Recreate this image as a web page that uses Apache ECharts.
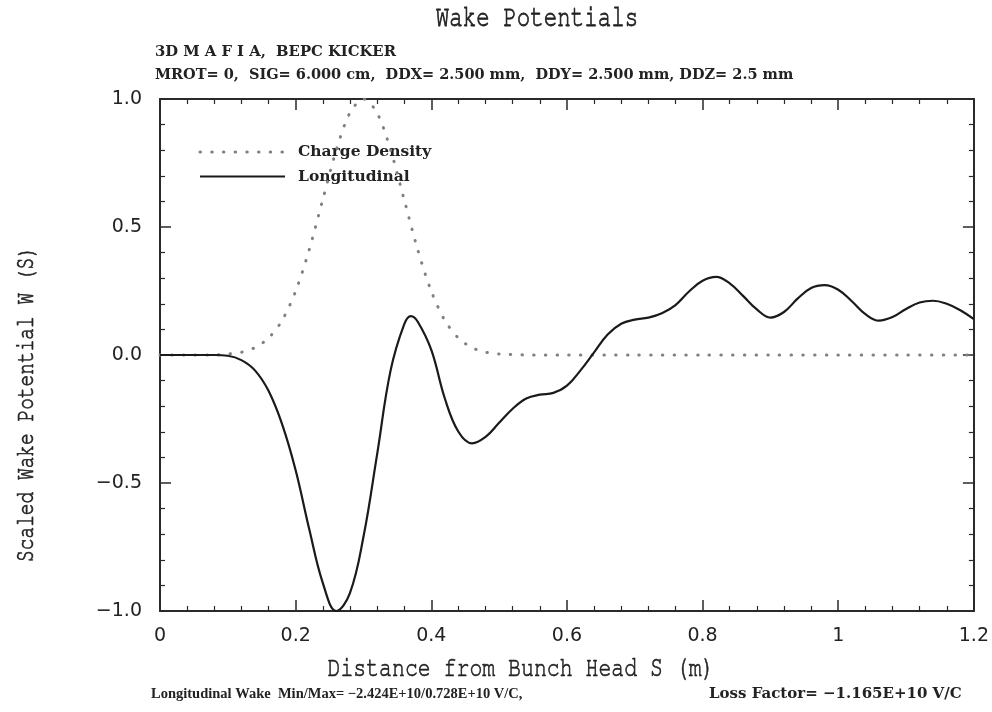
<!DOCTYPE html>
<html>
<head>
<meta charset="utf-8">
<script src="https://cdn.jsdelivr.net/npm/echarts@6/dist/echarts.min.js"></script>
<style>
html,body{margin:0;padding:0;background:#fff;}
#chart{width:992px;height:712px;}
</style>
</head>
<body>
<div id="chart"></div>
<script>
// ---- data ----
const chartTitle = 'Wake Potentials';
const headerLine1 = '3D M A F I A,  BEPC KICKER';
const headerLine2 = 'MROT= 0,  SIG= 6.000 cm,  DDX= 2.500 mm,  DDY= 2.500 mm, DDZ= 2.5 mm';
const footerLeft = 'Longitudinal Wake  Min/Max= \u22122.424E+10/0.728E+10 V/C,';
const footerRight = 'Loss Factor= \u22121.165E+10 V/C';
const xAxisTitle = 'Distance from Bunch Head S (m)';
const yAxisTitle = 'Scaled Wake Potential W (S)';
const seriesNames = ['Charge Density', 'Longitudinal'];

const xTicks = [0, 0.2, 0.4, 0.6, 0.8, 1, 1.2];
const yTicks = [-1.0, -0.5, 0.0, 0.5, 1.0];

// Charge density (scaled), s in m
const chargeS = [0, 0.04, 0.08, 0.10, 0.12, 0.14, 0.16, 0.18, 0.20, 0.22, 0.24, 0.26, 0.28, 0.30,
                 0.32, 0.34, 0.36, 0.38, 0.40, 0.42, 0.44, 0.46, 0.48, 0.50, 0.55, 0.60, 0.70,
                 0.80, 0.90, 1.00, 1.10, 1.20];
const chargeW = [0, 0, 0, 0.004, 0.011, 0.029, 0.066, 0.135, 0.249, 0.411, 0.607, 0.801, 0.946, 1.0,
                 0.946, 0.801, 0.607, 0.411, 0.249, 0.135, 0.066, 0.029, 0.011, 0.004, 0, 0, 0,
                 0, 0, 0, 0, 0];

// Longitudinal wake (scaled)
const wakeS = [0, 0.02, 0.04, 0.06, 0.08, 0.10, 0.12, 0.14, 0.16, 0.18, 0.20, 0.22, 0.24, 0.26, 0.28,
               0.30, 0.32, 0.34, 0.36, 0.37, 0.38, 0.40, 0.42, 0.44, 0.46, 0.48, 0.50, 0.52, 0.54,
               0.56, 0.58, 0.60, 0.62, 0.64, 0.66, 0.68, 0.70, 0.72, 0.74, 0.76, 0.78, 0.80, 0.82,
               0.84, 0.86, 0.88, 0.90, 0.92, 0.94, 0.96, 0.98, 1.00, 1.02, 1.04, 1.06, 1.08, 1.10,
               1.12, 1.14, 1.16, 1.18, 1.20];
const wakeW = [0, 0, 0, 0, 0, -0.003, -0.02, -0.06, -0.14, -0.27, -0.45, -0.68, -0.89, -1.0, -0.93,
               -0.71, -0.39, -0.06, 0.12, 0.152, 0.13, 0.02, -0.17, -0.30, -0.345, -0.32, -0.265, -0.21, -0.17,
               -0.155, -0.148, -0.12, -0.06, 0.01, 0.08, 0.122, 0.138, 0.146, 0.163, 0.195, 0.248, 0.29, 0.305,
               0.28, 0.23, 0.178, 0.146, 0.168, 0.22, 0.262, 0.273, 0.255, 0.21, 0.16, 0.134, 0.148, 0.18,
               0.205, 0.212, 0.2, 0.175, 0.14];

// ---- chart ----
const GRID = {left: 160, right: 14, top: 99, bottom: 101};
const AX = '#2a2a2a';
const MONO = 'FreeMono';
const SERIF = 'DejaVu Serif';

function pairs(xs, ys) { return xs.map((x, i) => [x, ys[i]]); }

const xBase = {
  type: 'value', min: xTicks[0], max: xTicks[xTicks.length - 1], interval: 0.2,
  axisLine: {show: true, onZero: false, lineStyle: {color: AX, width: 2}},
  axisTick: {show: true, inside: true, length: 11, lineStyle: {color: AX, width: 1.5}},
  minorTick: {show: true, splitNumber: 5, length: 5, lineStyle: {color: AX, width: 1.2}},
  splitLine: {show: false}
};
const yBase = {
  type: 'value', min: yTicks[0], max: yTicks[yTicks.length - 1], interval: 0.5,
  axisLine: {show: true, onZero: false, lineStyle: {color: AX, width: 2}},
  axisTick: {show: true, inside: true, length: 11, lineStyle: {color: AX, width: 1.5}},
  minorTick: {show: true, splitNumber: 5, length: 5, lineStyle: {color: AX, width: 1.2}},
  splitLine: {show: false}
};

const DOT_COLOR = '#808080';
const LINE_COLOR = '#1a1a1a';

function txt(x, y, text, size, family, weight, align, opts) {
  opts = opts || {};
  const style = {text: text, fill: '#222', fontSize: size, fontFamily: family, fontWeight: weight || 'normal',
                 textAlign: align || 'left', textVerticalAlign: 'middle'};
  if (opts.strokeW) { style.stroke = '#222'; style.lineWidth = opts.strokeW; }
  const el = {type: 'text', x: x, y: y, silent: true, style: style};
  if (opts.rot) el.rotation = opts.rot;
  if (opts.sy) el.scaleY = opts.sy;
  return el;
}

const chart = echarts.init(document.getElementById('chart'), null, {renderer: 'canvas'});
chart.setOption({
  backgroundColor: '#fff',
  animation: false,
  grid: GRID,
  xAxis: [
    Object.assign({}, xBase, {
      position: 'bottom',
      axisLabel: {show: true, margin: 16, fontFamily: 'DejaVu Sans', fontSize: 19, color: '#222',
                  showMaxLabel: true, showMinLabel: true}
    }),
    Object.assign({}, xBase, {position: 'top', axisLabel: {show: false}})
  ],
  yAxis: [
    Object.assign({}, yBase, {
      position: 'left',
      axisLabel: {show: true, margin: 18, fontFamily: 'DejaVu Sans', fontSize: 19, color: '#222',
                  formatter: v => v.toFixed(1).replace('-', '\u2212')}
    }),
    Object.assign({}, yBase, {position: 'right', axisLabel: {show: false}})
  ],
  series: [
    {
      name: seriesNames[0], type: 'line', xAxisIndex: 0, yAxisIndex: 0,
      data: pairs(chargeS, chargeW), smooth: 0.3, showSymbol: false, symbol: 'none',
      lineStyle: {color: DOT_COLOR, width: 3, type: [0.5, 11.2], cap: 'round'}, z: 2
    },
    {
      name: seriesNames[1], type: 'line', xAxisIndex: 0, yAxisIndex: 0,
      data: pairs(wakeS, wakeW), smooth: 0.4, showSymbol: false, symbol: 'none',
      lineStyle: {color: LINE_COLOR, width: 2.2}, z: 3
    }
  ],
  graphic: [
    txt(537, 17, chartTitle, 22.5, MONO, 'normal', 'center', {sy: 1.35, strokeW: 0.6}),
    txt(155, 52, headerLine1, 14.8, SERIF, 'bold', 'left'),
    txt(155, 75, headerLine2, 14.5, SERIF, 'bold', 'left'),
    txt(521, 667, xAxisTitle, 21.5, MONO, 'normal', 'center', {sy: 1.35, strokeW: 0.5}),
    txt(25, 404, yAxisTitle, 19.5, MONO, 'normal', 'center', {rot: Math.PI / 2, sy: 1.35, strokeW: 0.5}),
    txt(151, 694, footerLeft, 14.5, 'Liberation Serif', 'bold', 'left'),
    txt(709, 694, footerRight, 15, SERIF, 'bold', 'left'),
    // legend
    {type: 'line', silent: true, shape: {x1: 200, y1: 152, x2: 285, y2: 152},
     style: {stroke: DOT_COLOR, lineWidth: 3, lineDash: [0.5, 11.2], lineCap: 'round'}},
    txt(298, 152, seriesNames[0], 15.5, SERIF, 'bold', 'left'),
    {type: 'line', silent: true, shape: {x1: 200, y1: 176.5, x2: 285, y2: 176.5},
     style: {stroke: LINE_COLOR, lineWidth: 1.8}},
    txt(298, 177, seriesNames[1], 15.5, SERIF, 'bold', 'left')
  ]
});
</script>
</body>
</html>
